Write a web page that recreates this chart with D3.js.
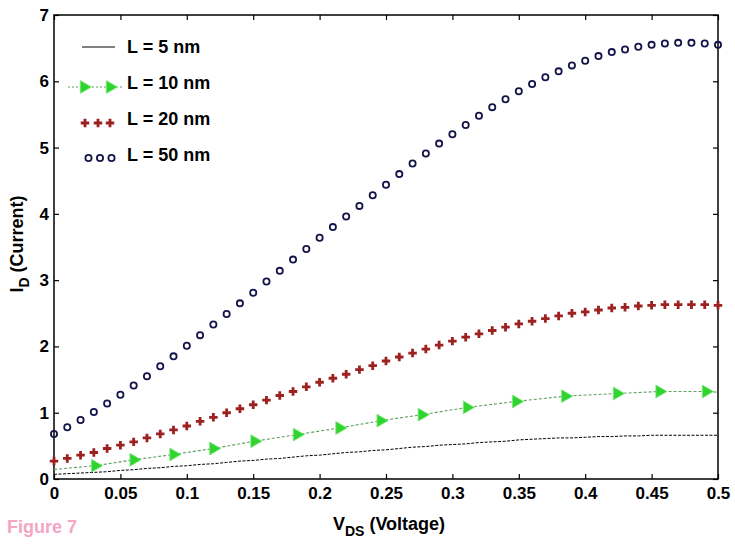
<!DOCTYPE html>
<html>
<head>
<meta charset="utf-8">
<script src="https://cdn.jsdelivr.net/npm/d3@7/dist/d3.min.js"></script>
<style>
  html, body { margin: 0; padding: 0; background: #ffffff; }
  svg { display: block; }
  text { font-family: "Liberation Sans", Arial, sans-serif; font-weight: bold; }
</style>
</head>
<body>
<svg id="chart" width="735" height="544"></svg>
<script>
// ---------- data ----------
const vds = d3.range(51).map(i => +(i * 0.01).toFixed(2)); // 0 .. 0.5 step 0.01

const id50 = [0.68,0.78,0.89,1.01,1.14,1.27,1.41,1.55,1.70,1.85,2.01,2.17,2.33,2.49,2.65,2.81,2.98,3.14,3.31,3.47,
              3.64,3.80,3.96,4.12,4.28,4.44,4.60,4.76,4.91,5.06,5.20,5.34,5.48,5.61,5.73,5.85,5.96,6.06,6.15,6.24,
              6.31,6.38,6.44,6.48,6.52,6.55,6.57,6.58,6.58,6.57,6.55];

const id20 = [0.27,0.31,0.36,0.40,0.46,0.51,0.56,0.62,0.68,0.74,0.80,0.87,0.93,1.00,1.06,1.12,1.19,1.26,1.32,1.39,
              1.46,1.52,1.58,1.65,1.71,1.78,1.84,1.90,1.96,2.02,2.08,2.14,2.19,2.24,2.29,2.34,2.38,2.42,2.46,2.50,
              2.52,2.55,2.58,2.59,2.61,2.62,2.63,2.63,2.63,2.63,2.62];

const id5  = [0.07,0.08,0.09,0.10,0.11,0.13,0.14,0.16,0.17,0.19,0.20,0.22,0.23,0.25,0.27,0.28,0.30,0.31,0.33,0.35,
              0.36,0.38,0.40,0.41,0.43,0.44,0.46,0.48,0.49,0.51,0.52,0.53,0.55,0.56,0.57,0.59,0.60,0.61,0.62,0.62,
              0.63,0.64,0.64,0.65,0.65,0.66,0.66,0.66,0.66,0.66,0.66];

// L = 10 nm: dashed line through these points, triangle markers on the inner ones
const id10X = [0, 0.031,0.060,0.090,0.120,0.151,0.183,0.215,0.246,0.277,0.311,0.348,0.385,0.424,0.456,0.491, 0.5];
const id10Y = [0.145,0.20,0.29,0.37,0.46,0.57,0.67,0.77,0.88,0.97,1.08,1.17,1.25,1.29,1.32,1.32, 1.31];

const legendLabels = ["L = 5 nm", "L = 10 nm", "L = 20 nm", "L = 50 nm"];
const xTickValues = [0,0.05,0.1,0.15,0.2,0.25,0.3,0.35,0.4,0.45,0.5];
const xTickLabels = ["0","0.05","0.1","0.15","0.2","0.25","0.3","0.35","0.4","0.45","0.5"];
const yTickValues = [0,1,2,3,4,5,6,7];
const yTickLabels = ["0","1","2","3","4","5","6","7"];

// ---------- layout ----------
const svg = d3.select("#chart");
const L = 54, R = 718, T = 15, B = 479;
const x = d3.scaleLinear().domain([0, 0.5]).range([L, R]);
const y = d3.scaleLinear().domain([0, 7]).range([B, T]);

const C = {
  black: "#000000",
  greenLine: "#5f9f5f",
  green: "#2fd42f",
  red: "#9c2121",
  blue: "#14144a"
};

// ---------- axes (MATLAB-style box, ticks inside) ----------
const fmtX = (d) => xTickLabels[xTickValues.indexOf(d)];
const fmtY = (d) => yTickLabels[yTickValues.indexOf(d)];

const gx = svg.append("g").attr("transform", `translate(0,${B})`)
  .call(d3.axisBottom(x).tickValues(xTickValues).tickFormat(fmtX).tickSizeInner(-5).tickSizeOuter(0).tickPadding(8));
const gy = svg.append("g").attr("transform", `translate(${L},0)`)
  .call(d3.axisLeft(y).tickValues(yTickValues).tickFormat(fmtY).tickSizeInner(-5).tickSizeOuter(0).tickPadding(5));
const gt = svg.append("g").attr("transform", `translate(0,${T})`)
  .call(d3.axisTop(x).tickValues(xTickValues).tickFormat("").tickSizeInner(-5).tickSizeOuter(0));
const gr = svg.append("g").attr("transform", `translate(${R},0)`)
  .call(d3.axisRight(y).tickValues(yTickValues).tickFormat("").tickSizeInner(-5).tickSizeOuter(0));

[gx, gy, gt, gr].forEach(g => {
  g.select(".domain").remove();
  g.selectAll(".tick line").attr("stroke", "#000").attr("stroke-width", 1.2);
  g.selectAll(".tick text").attr("fill", "#000").style("font-size", "17px")
    .style("font-family", '"Liberation Sans", Arial, sans-serif').style("font-weight", "bold");
});

svg.append("rect").attr("x", L).attr("y", T).attr("width", R - L).attr("height", B - T)
  .attr("fill", "none").attr("stroke", "#000").attr("stroke-width", 1.5);

// ---------- series ----------
const line = d3.line().x(d => x(d[0])).y(d => y(d[1]));

// L = 5 nm (thin dashed black)
svg.append("path")
  .attr("d", line(vds.map((v, i) => [v, id5[i]])))
  .attr("fill", "none").attr("stroke", C.black).attr("stroke-width", 1)
  .attr("stroke-dasharray", "3,1.5");

// L = 10 nm (dashed green line + right-pointing triangles)
const g10 = id10X.map((v, i) => [v, id10Y[i]]);
svg.append("path")
  .attr("d", line(g10))
  .attr("fill", "none").attr("stroke", C.greenLine).attr("stroke-width", 1.1)
  .attr("stroke-dasharray", "3,2");
const tri = d3.symbol().type(d3.symbolTriangle).size(72);
svg.append("g").selectAll("path")
  .data(g10.slice(1, g10.length - 1))
  .join("path")
  .attr("d", tri)
  .attr("transform", d => `translate(${x(d[0])},${y(d[1])}) rotate(90)`)
  .attr("fill", C.green).attr("stroke", "#7ee87e").attr("stroke-width", 0.8);

// L = 20 nm (red crosses)
const cross = d3.symbol().type(d3.symbolCross).size(40);
svg.append("g").selectAll("path")
  .data(vds.map((v, i) => [v, id20[i]]))
  .join("path")
  .attr("d", cross)
  .attr("transform", d => `translate(${x(d[0])},${y(d[1])})`)
  .attr("fill", C.red);

// L = 50 nm (open navy circles)
svg.append("g").selectAll("circle")
  .data(vds.map((v, i) => [v, id50[i]]))
  .join("circle")
  .attr("cx", d => x(d[0])).attr("cy", d => y(d[1])).attr("r", 3.1)
  .attr("fill", "none").attr("stroke", C.blue).attr("stroke-width", 1.8);

// ---------- legend ----------
const lg = svg.append("g");
const legY = [47, 83, 119, 155];
const textX = 127;
legendLabels.forEach((t, i) => {
  lg.append("text").attr("x", textX).attr("y", legY[i]).attr("dy", "0.36em")
    .style("font-size", "18px").attr("fill", "#000").text(t);
});
// black line
lg.append("line").attr("x1", 82).attr("x2", 115).attr("y1", legY[0]).attr("y2", legY[0])
  .attr("stroke", "#000").attr("stroke-width", 1.2);
// green dashed + triangles
lg.append("line").attr("x1", 68).attr("x2", 122).attr("y1", legY[1] + 4).attr("y2", legY[1] + 4)
  .attr("stroke", C.greenLine).attr("stroke-width", 1.1).attr("stroke-dasharray", "2,2");
[84, 110].forEach(px => {
  lg.append("path").attr("d", tri).attr("transform", `translate(${px},${legY[1] + 4}) rotate(90)`)
    .attr("fill", C.green).attr("stroke", "#7ee87e").attr("stroke-width", 0.8);
});
// red crosses
[85, 98, 110].forEach(px => {
  lg.append("path").attr("d", cross).attr("transform", `translate(${px},${legY[2] + 4})`).attr("fill", C.red);
});
// blue circles
[88.5, 100, 111.5].forEach(px => {
  lg.append("circle").attr("cx", px).attr("cy", legY[3] + 3).attr("r", 3.1)
    .attr("fill", "none").attr("stroke", C.blue).attr("stroke-width", 1.8);
});

// ---------- axis titles ----------
const xt = svg.append("text").attr("x", 389).attr("y", 530).attr("text-anchor", "middle")
  .style("font-size", "18px").attr("fill", "#000");
xt.append("tspan").text("V");
xt.append("tspan").attr("dy", 6).style("font-size", "14px").text("DS");
xt.append("tspan").attr("dy", -6).text(" (Voltage)");

const yt = svg.append("text").attr("transform", "translate(23,244) rotate(-90)").attr("text-anchor", "middle")
  .style("font-size", "18px").attr("fill", "#000");
yt.append("tspan").text("I");
yt.append("tspan").attr("dy", 6).style("font-size", "14px").text("D");
yt.append("tspan").attr("dy", -6).text(" (Current)");

// ---------- figure caption ----------
svg.append("text").attr("x", 7).attr("y", 533).style("font-size", "18px")
  .attr("fill", "#f2a6c4").text("Figure 7");
</script>
</body>
</html>
